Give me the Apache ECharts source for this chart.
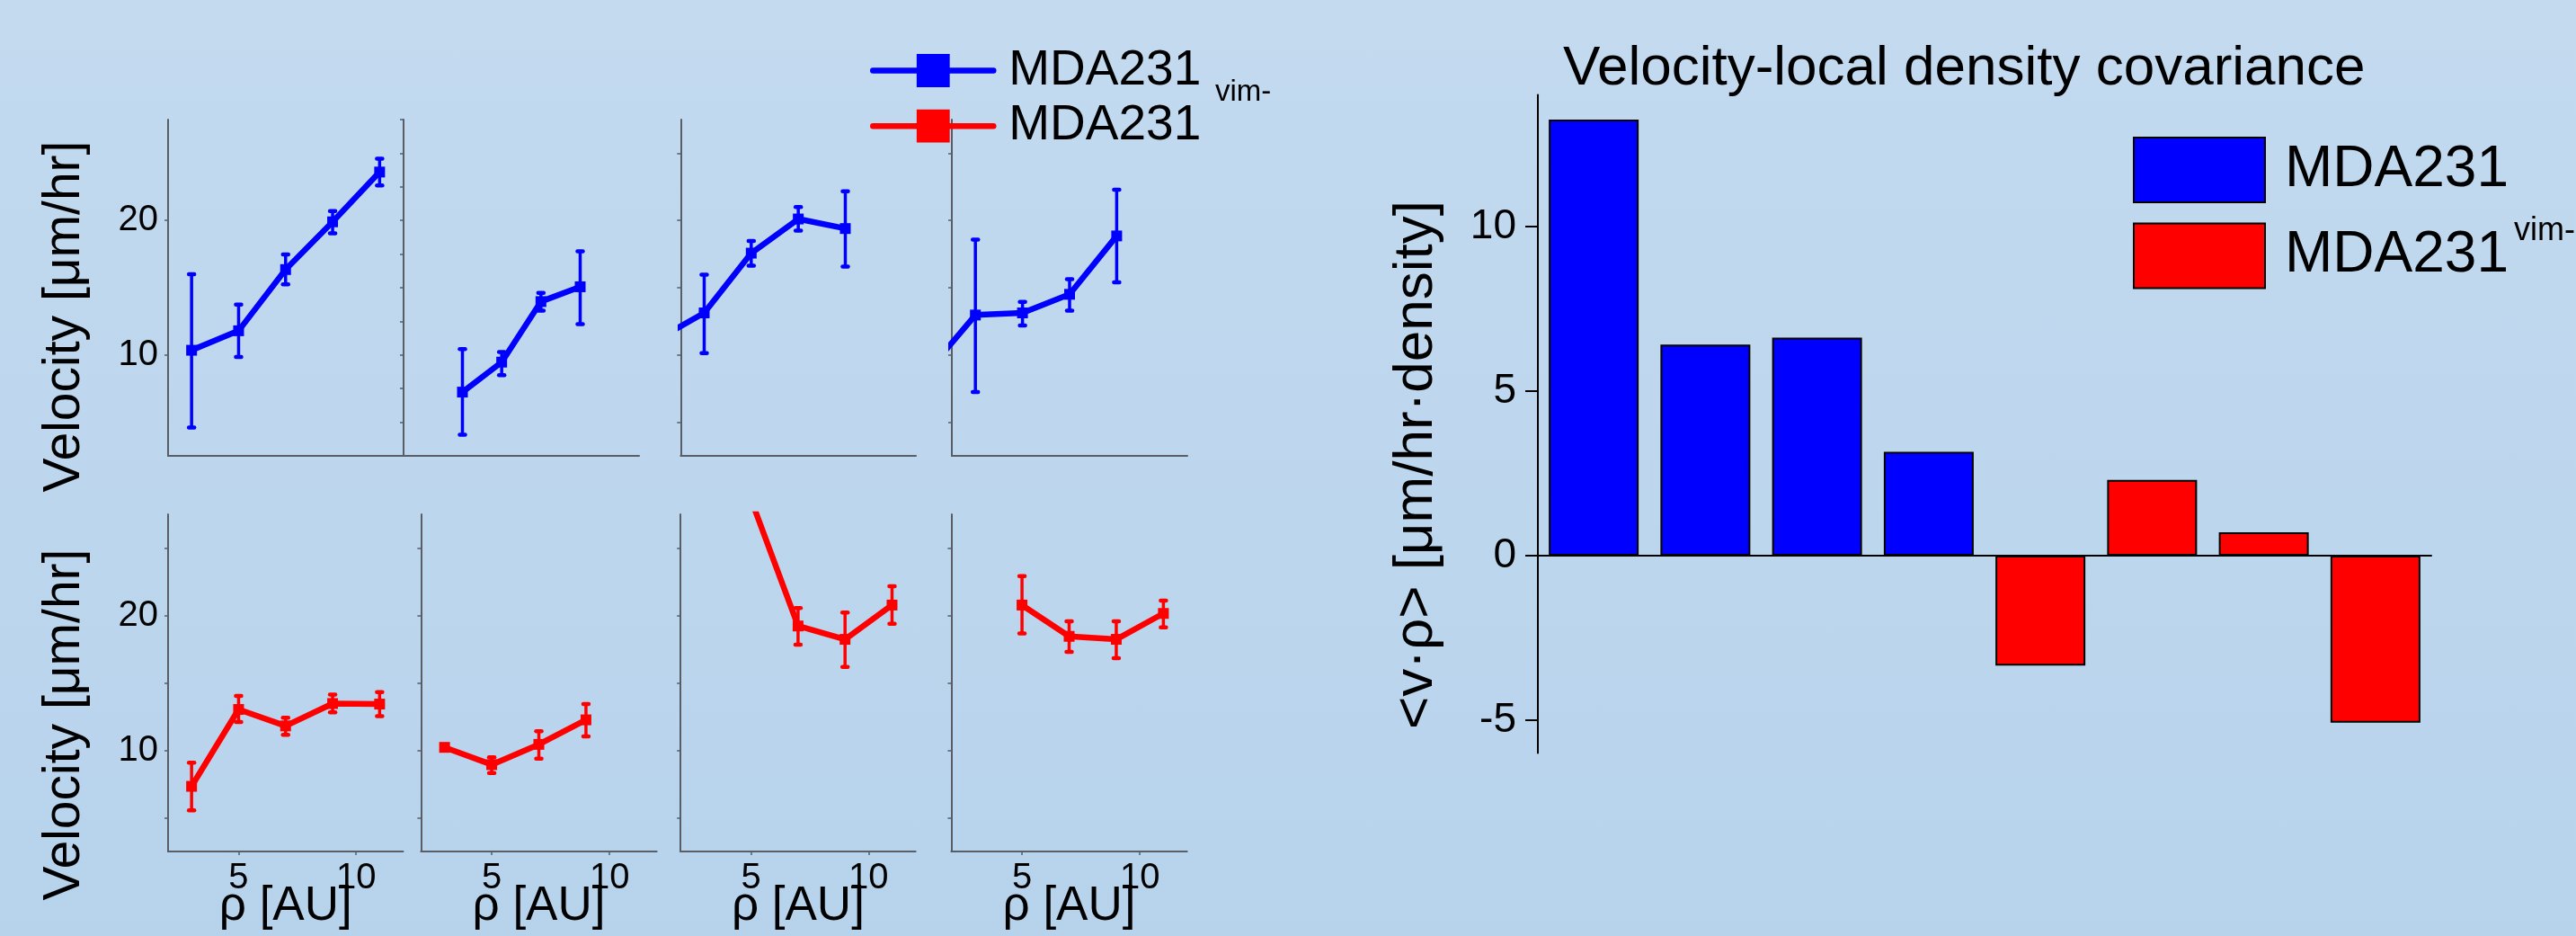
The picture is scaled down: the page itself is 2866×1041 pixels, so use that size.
<!DOCTYPE html>
<html>
<head>
<meta charset="utf-8">
<script src="https://cdn.jsdelivr.net/npm/echarts@6/dist/echarts.min.js"></script>
<style>
html,body{margin:0;padding:0;width:2866px;height:1041px;overflow:hidden;
  background:linear-gradient(to bottom,#C3DAEF,#B7D3EC);}
#chart{width:2866px;height:1041px;}
</style>
</head>
<body>
<div id="chart"></div>
<script>
// ---------------- DATA ----------------
// MDA231 (top row, blue): local density rho [AU], velocity [um/hr], error-bar low / high
const mdaRho1 = [3, 5, 7, 9, 11];
const mdaVel1 = [10.35, 11.8, 16.35, 19.9, 23.6];
const mdaLo1  = [4.6, 9.85, 15.25, 19.05, 22.6];
const mdaHi1  = [16.0, 13.75, 17.47, 20.7, 24.6];

const mdaRho2 = [3, 5, 7, 9];
const mdaVel2 = [7.24, 9.47, 13.97, 15.07];
const mdaLo2  = [4.07, 8.5, 13.29, 12.3];
const mdaHi2  = [10.44, 10.22, 14.62, 17.7];

const mdaRho3 = [1, 3, 5, 7, 9];
const mdaVel3 = [11.13, 13.13, 17.57, 20.11, 19.4];
const mdaLo3  = [null, 10.13, 16.64, 19.24, 16.57];
const mdaHi3  = [null, 15.97, 18.47, 21.0, 22.17];

const mdaRho4 = [1, 3, 5, 7, 9];
const mdaVel4 = [8.83, 12.97, 13.13, 14.51, 18.85];
const mdaLo4  = [null, 7.24, 12.2, 13.29, 15.4];
const mdaHi4  = [null, 18.57, 13.95, 15.64, 22.29];

// MDA231 vim- (bottom row, red)
const vimRho1 = [3, 5, 7, 9, 11];
const vimVel1 = [7.33, 13.03, 11.81, 13.47, 13.43];
const vimLo1  = [5.55, 12.1, 11.15, 12.81, 12.54];
const vimHi1  = [9.09, 14.03, 12.41, 14.13, 14.31];

const vimRho2 = [3, 5, 7, 9];
const vimVel2 = [10.22, 8.94, 10.44, 12.26];
const vimLo2  = [null, 8.32, 9.38, 11.04];
const vimHi2  = [null, 9.49, 11.41, 13.43];

const vimRho3 = [5, 7, 9, 11];
const vimVel3 = [28.6, 19.22, 18.23, 20.77];
const vimLo3  = [null, 17.83, 16.19, 19.38];
const vimHi3  = [null, 20.55, 20.22, 22.16];

const vimRho4 = [5, 7, 9, 11];
const vimVel4 = [20.77, 18.45, 18.23, 20.15];
const vimLo4  = [18.67, 17.3, 16.83, 19.11];
const vimHi4  = [22.92, 19.56, 19.56, 21.1];

// Covariance bar chart
const covCategories = ['1', '2', '3', '4', '5', '6', '7', '8'];
const covMDA = [13.25, 6.41, 6.62, 3.15];
const covVim = [-3.34, 2.30, 0.71, -5.08];

// Tick labels
const velTickLabels = [10, 20];
const rhoTickLabels = [5, 10];
const covTickLabels = [-5, 0, 5, 10];

const nameMDA = 'MDA231';
const nameVim = 'MDA231vim-';

// ---------------- LAYOUT / STYLE ----------------
const FONT = "'Liberation Sans', Arial, sans-serif";
const BLUE = '#0000FF', RED = '#FF0000', GRAY = '#585d66';

const panels = [
  {row: 0, rho: mdaRho1, vel: mdaVel1, lo: mdaLo1, hi: mdaHi1, left: 187,   width: 261.5, xmin: 2, ticks: [10, 20]},
  {row: 0, rho: mdaRho2, vel: mdaVel2, lo: mdaLo2, hi: mdaHi2, left: 449,   width: 262,   xmin: 0, ticks: [5,7.5,10,12.5,15,17.5,20,22.5,25,27.5]},
  {row: 0, rho: mdaRho3, vel: mdaVel3, lo: mdaLo3, hi: mdaHi3, left: 757.3, width: 261.7, xmin: 2, ticks: [5,10,15,20,25]},
  {row: 0, rho: mdaRho4, vel: mdaVel4, lo: mdaLo4, hi: mdaHi4, left: 1059,  width: 262,   xmin: 2, ticks: [5,10,15,20,25]},
  {row: 1, rho: vimRho1, vel: vimVel1, lo: vimLo1, hi: vimHi1, left: 187,   width: 261.5, xmin: 2, ticks: [5,10,15,20,25]},
  {row: 1, rho: vimRho2, vel: vimVel2, lo: vimLo2, hi: vimHi2, left: 468.4, width: 262.2, xmin: 2, ticks: [5,10,15,20,25]},
  {row: 1, rho: vimRho3, vel: vimVel3, lo: vimLo3, hi: vimHi3, left: 757.2, width: 261.4, xmin: 2, ticks: [5,10,15,20,25]},
  {row: 1, rho: vimRho4, vel: vimVel4, lo: vimLo4, hi: vimHi4, left: 1058.4,width: 262.2, xmin: 2, ticks: [5,10,15,20,25]}
];
const rowTop = [133, 572];
const rowHeight = [374, 375];

function renderErr(params, api) {
  const x = api.value(0), lo = api.value(1), hi = api.value(2);
  const a = api.coord([x, lo]);
  const b = api.coord([x, hi]);
  const color = api.visual('color');
  const cw = 3;
  return {
    type: 'group',
    children: [
      {type: 'line', shape: {x1: a[0], y1: a[1], x2: b[0], y2: b[1]}, style: {stroke: color, lineWidth: 3.5}},
      {type: 'line', shape: {x1: a[0] - cw, y1: a[1], x2: a[0] + cw, y2: a[1]}, style: {stroke: color, lineWidth: 4.5, lineCap: 'round'}},
      {type: 'line', shape: {x1: b[0] - cw, y1: b[1], x2: b[0] + cw, y2: b[1]}, style: {stroke: color, lineWidth: 4.5, lineCap: 'round'}}
    ]
  };
}

const grids = [], xAxes = [], yAxes = [], lineSeries = [], errSeries = [];
panels.forEach((p, i) => {
  const bottomRow = p.row === 1;
  const first = (i % 4) === 0;
  const color = bottomRow ? RED : BLUE;
  grids.push({left: p.left, top: rowTop[p.row], width: p.width, height: rowHeight[p.row], outerBoundsMode: 'none', containLabel: false});
  xAxes.push({
    gridIndex: i, type: 'value', min: p.xmin, max: 12,
    axisLine: {show: true, onZero: false, lineStyle: {color: GRAY, width: 2}},
    axisTick: {show: bottomRow, customValues: rhoTickLabels, length: 4, inside: false, lineStyle: {color: GRAY, width: 1.5}},
    axisLabel: {show: bottomRow, customValues: rhoTickLabels, fontSize: 40, fontFamily: FONT, color: '#000', margin: 10},
    splitLine: {show: false},
    name: bottomRow ? 'ρ [AU]' : '', nameLocation: 'middle', nameGap: 35, nameMoveOverlap: false,
    nameTextStyle: {fontSize: 53, fontFamily: FONT, color: '#000'}
  });
  yAxes.push({
    gridIndex: i, type: 'value', min: 2.5, max: 27.5, interval: 2.5,
    axisLine: {show: true, onZero: false, lineStyle: {color: GRAY, width: 2}},
    axisTick: {show: true, customValues: p.ticks, length: 4, inside: false, lineStyle: {color: GRAY, width: 1.5}},
    axisLabel: {show: first, customValues: velTickLabels, fontSize: 40, fontFamily: FONT, color: '#000', margin: 11},
    splitLine: {show: false}
  });
  lineSeries.push({
    type: 'line', name: bottomRow ? nameVim : nameMDA,
    xAxisIndex: i, yAxisIndex: i, clip: true,
    data: p.rho.map((r, k) => [r, p.vel[k]]),
    symbol: 'rect', symbolSize: 12, showSymbol: true,
    lineStyle: {color: color, width: 6.5, cap: 'round', join: 'round'},
    itemStyle: {color: color, borderWidth: 0},
    emphasis: {disabled: true}, animation: false, z: 3
  });
  errSeries.push({
    type: 'custom', xAxisIndex: i, yAxisIndex: i, clip: true,
    itemStyle: {color: color},
    renderItem: renderErr,
    encode: {x: 0, y: [1, 2]},
    data: p.rho.map((r, k) => [r, p.lo[k], p.hi[k]]).filter(d => d[1] != null),
    animation: false, z: 2, silent: true
  });
});

// Bar chart grid (index 8)
grids.push({left: 1711, top: 105.5, width: 994, height: 732, outerBoundsMode: 'none', containLabel: false});
xAxes.push({
  gridIndex: 8, type: 'category', data: covCategories, boundaryGap: true,
  axisLine: {show: true, onZero: true, lineStyle: {color: '#000', width: 2}},
  axisTick: {show: false}, axisLabel: {show: false}, splitLine: {show: false}
});
yAxes.push({
  gridIndex: 8, type: 'value', min: -6, max: 14,
  axisLine: {show: true, lineStyle: {color: '#000', width: 2}},
  axisTick: {show: true, customValues: covTickLabels, length: 14, inside: false, lineStyle: {color: '#000', width: 2}},
  axisLabel: {show: true, customValues: covTickLabels, fontSize: 46, fontFamily: FONT, color: '#000', margin: 24},
  splitLine: {show: false}
});
const pad = n => new Array(n).fill(null);
const barSeries = [
  {type: 'bar', name: nameMDA, xAxisIndex: 8, yAxisIndex: 8, stack: 'cov', barWidth: 100,
   data: covMDA.concat(pad(covVim.length)),
   itemStyle: {color: BLUE, borderColor: '#000', borderWidth: 2}, animation: false},
  {type: 'bar', name: nameVim, xAxisIndex: 8, yAxisIndex: 8, stack: 'cov', barWidth: 100,
   data: pad(covMDA.length).concat(covVim),
   itemStyle: {color: RED, borderColor: '#000', borderWidth: 2}, animation: false}
];

const option = {
  backgroundColor: 'transparent',
  animation: false,
  textStyle: {fontFamily: FONT},
  title: {
    text: 'Velocity-local density covariance', left: 1739, top: 46, padding: 0,
    textStyle: {fontSize: 62, fontWeight: 'normal', fontFamily: FONT, color: '#000'}
  },
  legend: [
    {
      orient: 'vertical', left: 968, top: 51, padding: 0, selectedMode: false,
      itemWidth: 134, itemHeight: 46, itemGap: 6.7,
      data: [nameMDA, nameVim],
      formatter: () => 'MDA231',
      lineStyle: {width: 6.5, cap: 'round'},
      itemStyle: {borderWidth: 0},
      textStyle: {fontSize: 55, fontFamily: FONT, color: '#000', lineHeight: 46, padding: [0, 0, 0, 12]}
    },
    {
      orient: 'vertical', left: 2373, top: 152, padding: 0, selectedMode: false,
      icon: 'rect', itemWidth: 146, itemHeight: 72, itemGap: 21.4,
      data: [nameMDA, nameVim],
      formatter: () => 'MDA231',
      itemStyle: {borderColor: '#000', borderWidth: 2},
      textStyle: {fontSize: 64, fontFamily: FONT, color: '#000', lineHeight: 72, padding: [0, 0, 0, 17]}
    }
  ],
  grid: grids,
  xAxis: xAxes,
  yAxis: yAxes,
  series: lineSeries.concat(errSeries, barSeries),
  graphic: [
    {type: 'text', x: 72, y: 352, rotation: Math.PI / 2,
     style: {text: 'Velocity [μm/hr]', fontSize: 57, fontFamily: FONT, fill: '#000', align: 'center', verticalAlign: 'middle'}},
    {type: 'text', x: 72, y: 806, rotation: Math.PI / 2,
     style: {text: 'Velocity [μm/hr]', fontSize: 57, fontFamily: FONT, fill: '#000', align: 'center', verticalAlign: 'middle'}},
    {type: 'text', x: 1576, y: 517, rotation: Math.PI / 2,
     style: {text: '<v·ρ> [μm/hr·density]', fontSize: 62, fontFamily: FONT, fill: '#000', align: 'center', verticalAlign: 'middle'}},
    {type: 'text', x: 1352, y: 103,
     style: {text: 'vim-', fontSize: 33, fontFamily: FONT, fill: '#000', align: 'left', verticalAlign: 'middle'}},
    {type: 'text', x: 2797, y: 257,
     style: {text: 'vim-', fontSize: 36, fontFamily: FONT, fill: '#000', align: 'left', verticalAlign: 'middle'}}
  ]
};

const chart = echarts.init(document.getElementById('chart'), null, {renderer: 'canvas'});
chart.setOption(option);
</script>
</body>
</html>
